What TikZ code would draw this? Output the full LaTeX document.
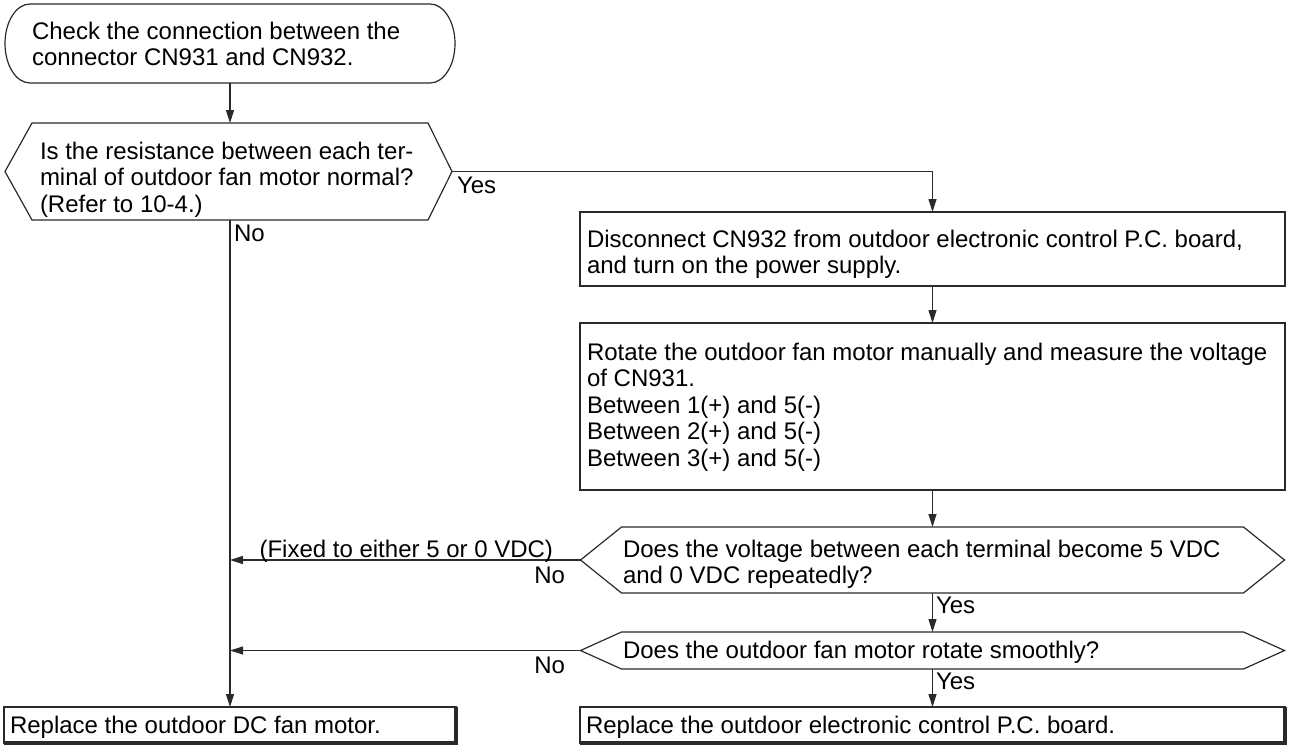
\documentclass[tikz,border=0pt]{standalone}
\usepackage{fontspec}
\setmainfont{Liberation Sans}
\usetikzlibrary{calc,arrows.meta}
\definecolor{ln}{HTML}{2A2A2A}
\begin{document}
\begin{tikzpicture}[x=1pt,y=-1pt,
  every node/.style={inner sep=0pt, outer sep=0pt},
  txt/.style={anchor=north west, align=left, font=\fontsize{24}{26.5}\selectfont, text=black},
  lblr/.style={anchor=north east, font=\fontsize{24}{26.5}\selectfont, text=black},
  lbll/.style={anchor=north west, font=\fontsize{24}{26.5}\selectfont, text=black},
  shapebox/.style={draw=ln, line width=1.2pt, rectangle},
  hexin/.style={rectangle},
  conn/.style={draw=ln, line width=1.2pt, line join=miter},
  arr/.style={draw=ln, line width=1.2pt, -{Triangle[length=13pt,width=8pt]}},
  finalbox/.style={draw=ln, line width=1.8pt, rectangle},
  finalshadow/.style={draw=ln, line width=4pt},
]
\useasboundingbox (0,0) rectangle (1290,753);

% start terminal
\node[hexin, minimum width=450pt, minimum height=79pt] (start) at (230,43.5) {};
\draw[conn] ([xshift=25pt]start.north west) -- ([xshift=-25pt]start.north east)
  arc[start angle=90, end angle=-90, x radius=25pt, y radius=39.5pt]
  -- ([xshift=25pt]start.south west)
  arc[start angle=270, end angle=90, x radius=25pt, y radius=39.5pt] -- cycle;
\node[txt] (t0) at (32,22) {Check the connection between the\\connector CN931 and CN932.};

% decision 1
\node[hexin, minimum width=396pt, minimum height=97pt] (d1) at (230,171.5) {};
\path (d1.west) ++(-27,0) coordinate (d1w);
\path (d1.east) ++(24,0) coordinate (d1e);
\draw[conn] (d1w) -- (d1.north west) -- (d1.north east) -- (d1e) -- (d1.south east) -- (d1.south west) -- cycle;
\node[txt] (t1) at (40,142) {Is the resistance between each ter-\\minal of outdoor fan motor normal?\\(Refer to 10-4.)};

% box 1
\node[shapebox, minimum width=705pt, minimum height=74pt] (box1) at (932.5,249) {};
\node[txt] (t2) at (587,230) {Disconnect CN932 from outdoor electronic control P.C. board,\\and turn on the power supply.};

% box 2
\node[shapebox, minimum width=705pt, minimum height=167pt] (box2) at (932.5,406.5) {};
\node[txt] (t3) at (587,343) {Rotate the outdoor fan motor manually and measure the voltage\\of CN931.\\Between 1(+) and 5(-)\\Between 2(+) and 5(-)\\Between 3(+) and 5(-)};

% decision 2
\node[hexin, minimum width=622pt, minimum height=66pt] (d2) at (932.5,560) {};
\path (d2.west) ++(-41,0) coordinate (d2w);
\path (d2.east) ++(41,0) coordinate (d2e);
\draw[conn] (d2w) -- (d2.north west) -- (d2.north east) -- (d2e) -- (d2.south east) -- (d2.south west) -- cycle;
\node[txt] (t4) at (623,540) {Does the voltage between each terminal become 5 VDC\\and 0 VDC repeatedly?};

% decision 3
\node[hexin, minimum width=622pt, minimum height=37pt] (d3) at (932.5,650.5) {};
\path (d3.west) ++(-41,0) coordinate (d3w);
\path (d3.east) ++(41,0) coordinate (d3e);
\draw[conn] (d3w) -- (d3.north west) -- (d3.north east) -- (d3e) -- (d3.south east) -- (d3.south west) -- cycle;
\node[txt] (t5) at (623,641.5) {Does the outdoor fan motor rotate smoothly?};

% final boxes
\node[finalbox, minimum width=452pt, minimum height=36pt] (fin1) at (230,725) {};
\draw[finalshadow] (fin1.north east) -- (fin1.south east) -- (fin1.south west);
\node[txt] (t6) at (10,716.5) {Replace the outdoor DC fan motor.};
\node[finalbox, minimum width=705pt, minimum height=36pt] (fin2) at (932.5,725) {};
\draw[finalshadow] (fin2.north east) -- (fin2.south east) -- (fin2.south west);
\node[txt] (t7) at (586,716.5) {Replace the outdoor electronic control P.C. board.};

% connectors
\draw[arr] (start.south) -- (d1.north);
\draw[arr] (d1e) -| (box1.north);
\draw[arr] (d1.south) -- (fin1.north);
\draw[arr] (box1.south) -- (box2.north);
\draw[arr] (box2.south) -- (d2.north);
\draw[arr] (d2.south) -- (d3.north);
\draw[arr] (d3.south) -- (fin2.north);
\draw[arr] (d2w) -- (d2w -| d1.south);
\draw[arr] (d3w) -- (d3w -| d1.south);

% labels
\node[lbll] (yes1) at (457,177) {Yes};
\node[lbll] (no1) at (234,225) {No};
\node[lblr] (fix) at (553,540) {(Fixed to either 5 or 0 VDC)};
\node[lblr] (no2) at (565,567) {No};
\node[lbll] (yes2) at (936,597) {Yes};
\node[lblr] (no3) at (565,657) {No};
\node[lbll] (yes3) at (936,673) {Yes};
\end{tikzpicture}
\end{document}
